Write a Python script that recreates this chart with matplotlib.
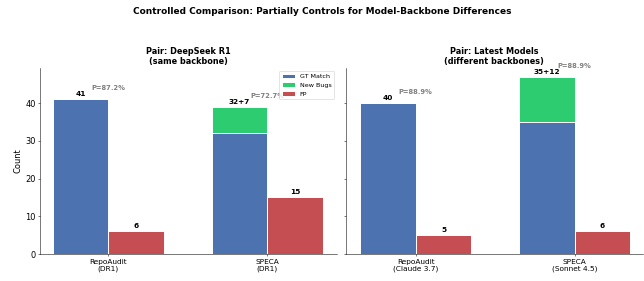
import numpy as np
import matplotlib.pyplot as plt

# data
tools = ['RepoAudit', 'SPECA']
left_labels = ['RepoAudit\n(DR1)', 'SPECA\n(DR1)']
right_labels = ['RepoAudit\n(Claude 3.7)', 'SPECA\n(Sonnet 4.5)']
left_gt = [41, 32]
left_new = [0, 7]
left_fp = [6, 15]
left_prec = ['P=87.2%', 'P=72.7%']
right_gt = [40, 35]
right_new = [0, 12]
right_fp = [5, 6]
right_prec = ['P=88.9%', 'P=88.9%']

c_gt = '#4C72B0'
c_new = '#2ECC71'
c_fp = '#C44E52'

fig = plt.figure(figsize=(14, 6.1), dpi=46.07)
ax1 = fig.add_axes([0.062, 0.096, 0.461, 0.662])
ax2 = fig.add_axes([0.536, 0.096, 0.461, 0.662], sharey=ax1)


def draw(ax, labels, gt, new, fp, prec, title, legend=False):
    x = np.arange(len(labels))
    w = 0.35
    ax.bar(x - w / 2, gt, w, color=c_gt, edgecolor='white', linewidth=1.5, label='GT Match')
    ax.bar(x - w / 2, new, w, bottom=gt, color=c_new, edgecolor='white', linewidth=1.5,
           label='New Bugs')
    ax.bar(x + w / 2, fp, w, color=c_fp, edgecolor='white', linewidth=1.5, label='FP')
    for i in range(len(labels)):
        top = gt[i] + new[i]
        txt = str(gt[i]) if new[i] == 0 else '%d+%d' % (gt[i], new[i])
        ax.text(x[i] - w / 2, top + 0.6, txt, ha='center', va='bottom',
                fontsize=11.5, fontweight='bold')
        ax.text(x[i] + w / 2, fp[i] + 0.6, str(fp[i]), ha='center', va='bottom',
                fontsize=11.5, fontweight='bold')
        ax.text(x[i], max(top, fp[i]) + 3, prec[i], ha='center', va='center',
                fontsize=10.5, color='gray', fontweight='bold')
    ax.set_xticks(x)
    ax.set_xticklabels(labels, fontsize=11.5)
    ax.set_title(title, fontsize=12.75, fontweight='bold')
    ax.spines['top'].set_visible(False)
    ax.spines['right'].set_visible(False)
    ax.tick_params(axis='y', labelsize=13)
    if legend:
        ax.legend(loc='upper right', fontsize=10)


draw(ax1, left_labels, left_gt, left_new, left_fp, left_prec,
     'Pair: DeepSeek R1\n(same backbone)', legend=True)
draw(ax2, right_labels, right_gt, right_new, right_fp, right_prec,
     'Pair: Latest Models\n(different backbones)')
ax1.set_ylabel('Count', fontsize=13)
ax1.set_ylim(0, 49.35)
ax1.set_xlim(-0.43, 1.44)
ax2.set_xlim(-0.44, 1.43)
plt.setp(ax2.get_yticklabels(), visible=False)

fig.suptitle('Controlled Comparison: Partially Controls for Model-Backbone Differences',
             fontsize=14, fontweight='bold', y=0.975)

plt.savefig('out.png', dpi=46.07)
